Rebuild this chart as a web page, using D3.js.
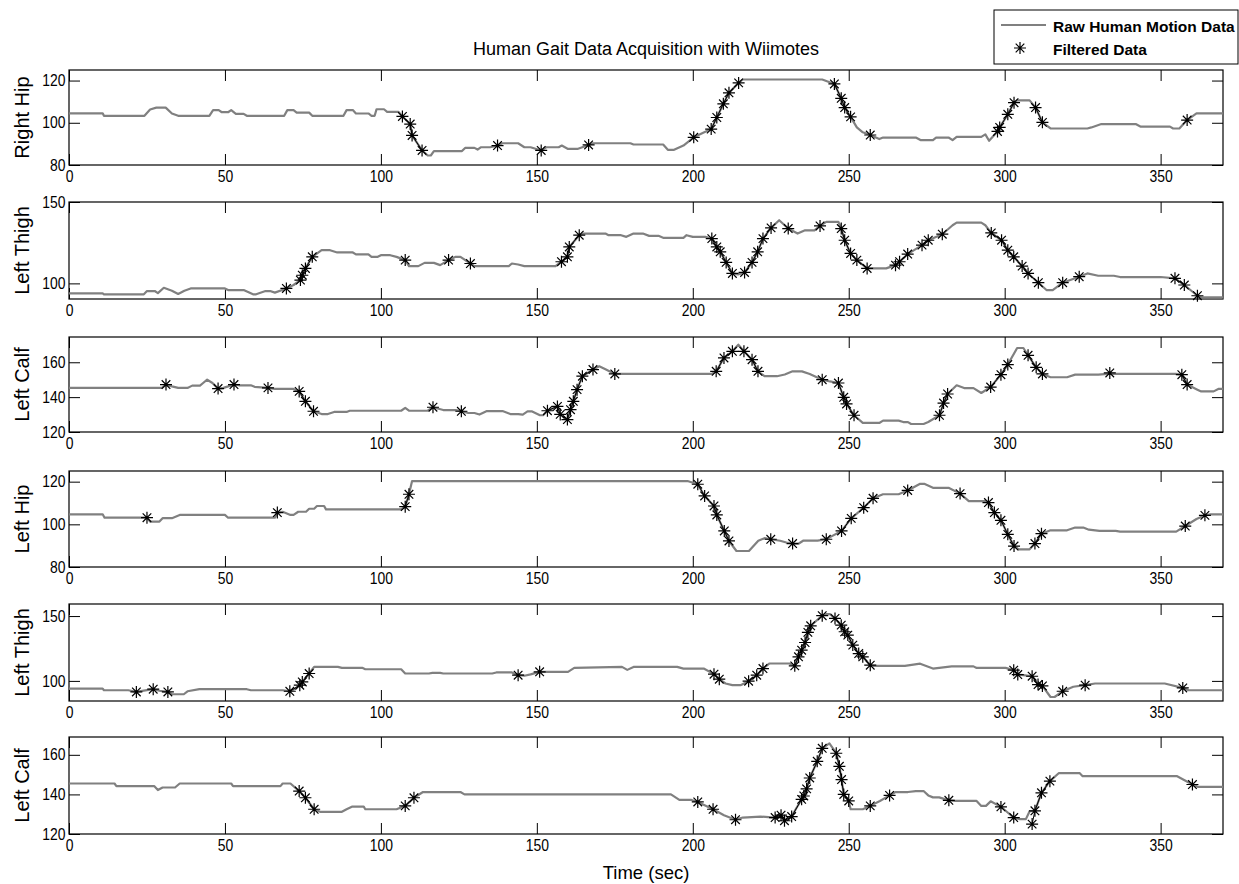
<!DOCTYPE html>
<html><head><meta charset="utf-8">
<script src="https://cdn.jsdelivr.net/npm/d3@7"></script>
<style>
body{margin:0;background:#fff}
text{font-family:"Liberation Sans",Arial,sans-serif;fill:#000}
</style>
</head><body>
<svg id="chart" width="1239" height="884"></svg>
<script>
// ---------------- DATA ----------------
const chartTitle = "Human Gait Data Acquisition with Wiimotes";
const xLabel = "Time (sec)";
const xTicks = [0, 50, 100, 150, 200, 250, 300, 350];
const panelLabels = ["Right Hip", "Left Thigh", "Left Calf", "Left Hip", "Left Thigh", "Left Calf"];
const yDomains = [[80,125],[90.4,150],[120,174.5],[80,125],[84.5,159.3],[120,169]];
const yTicks = [[80,100,120],[100,150],[120,140,160],[80,100,120],[100,150],[120,140,160]];
const legendLabels = ["Raw Human Motion Data", "Filtered Data"];

const rightHipRaw = [[0,104.5],[10.8,104.5],[11.2,103.3],[24.2,103.3],[26,106.3],[28,107.2],[31,107.2],[33,104.4],[35,103.3],[45,103.3],[46.2,106],[48,106],[49,105],[51,105],[52,106],[53.5,104.2],[56,104.2],[57,103.3],[69,103.3],[70,106],[72,106],[73,104.8],[77,104.8],[78,103.3],[88,103.3],[89,106],[91,106],[92,104.4],[96,104.4],[97,103.3],[98,103.3],[98.6,106.4],[101,106.4],[102,105.2],[105.6,105.2],[106.9,103],[109.4,99.4],[110,94],[113.2,86.9],[115,84.5],[116,84.5],[117,86.6],[126,86.6],[127,88.1],[130,88.1],[131,87.3],[132,88.4],[135,88.4],[137.4,89.2],[139,90.3],[144,90.3],[146,88.4],[148,88.4],[151.4,86.9],[153,88.4],[157,88.4],[158,89.2],[160,87.6],[163,87.6],[166.6,89.5],[168,90.3],[180,90.3],[181,89.7],[190.5,89.7],[192,87.2],[194,87.2],[197,89.2],[200.3,93.1],[203,95],[205.9,97],[207.7,102.5],[209.8,109],[211.6,114.2],[214.7,118.9],[216,120.5],[241.5,120.5],[245.4,118.4],[247.6,111.6],[248.7,107.2],[250.6,102.8],[252.6,97.8],[254.5,95.5],[256.9,94.2],[259.8,92.3],[261,93],[271.5,93],[273,91.8],[277,91.8],[278,93],[282,93],[283.3,91.8],[284.6,93.3],[292.5,93.3],[293.8,94.5],[295,91.5],[297.7,95.9],[298.4,97.8],[301,104],[303,109.5],[304,110.6],[308,110.6],[309.9,107.2],[312.1,100.2],[314.7,97.3],[326.5,97.3],[327.8,97.8],[331,99.4],[342,99.4],[343.5,98.2],[353,98.2],[354,97.3],[356,97.3],[358.5,101.3],[361.5,104.5],[370,104.5]];
const rightHipFiltered = [[106.9,103],[109.4,99.4],[110,94],[113.2,86.9],[137.4,89.2],[151.4,86.9],[166.6,89.5],[200.3,93.1],[205.9,97],[207.7,102.5],[209.8,109],[211.6,114.2],[214.7,118.9],[245.4,118.4],[247.6,111.6],[248.7,107.2],[250.6,102.8],[256.9,94.2],[297.7,95.9],[298.4,97.8],[301,104],[303,109.5],[309.9,107.2],[312.1,100.2],[358.5,101.3]];

const leftThighRaw = [[0,93.9],[10.8,93.9],[11.2,93.3],[24,93.3],[25,95.3],[27.5,95.3],[28.5,94],[30.4,97.3],[33,95.5],[35,93.5],[37,95.5],[39,96.9],[50,96.9],[51,95.9],[56,95.9],[59,93.3],[60,93.3],[63,95.3],[64.5,95.3],[66,94.3],[69.7,96.9],[72,99],[74.2,102],[74.8,105],[75.8,109.2],[78,116.3],[81,120.4],[83.7,120.4],[86,119],[91,119],[92,117.8],[96,117.8],[97,116.3],[99,116.3],[100,117.3],[103,117.3],[105,116.3],[107.8,114.3],[109,110.6],[112,110.6],[114,112.6],[117,112.6],[119,111.2],[121.7,114.3],[124,116.3],[125.5,116.3],[128.7,112.2],[130,110.6],[141,110.6],[142,112.2],[144,111.6],[146,110.6],[156,110.6],[157.9,113.3],[159.8,116.3],[160.4,122.4],[163.6,129.6],[165,130.6],[172,130.6],[173,129.6],[177,129.6],[178.7,128.6],[181,130.6],[184,130.6],[186,129.2],[189,129.2],[190.5,128],[197,128],[198,129.6],[200,128.6],[204,128.6],[206.1,127.5],[207.7,122.4],[208.8,119.4],[210.7,112.9],[212.7,106.1],[214.5,105.5],[216.6,106.7],[219,112.9],[220.8,119.4],[222.5,127.5],[225.1,134.1],[227.7,138.8],[230.6,133.7],[233.6,130.6],[236,132.6],[239,132.6],[240.8,135.3],[242.8,137.8],[246.7,137.8],[247.6,133.7],[248.7,126.5],[250.6,118.4],[252.6,114.3],[255.9,109.2],[262,109.2],[265,111.2],[266.3,113.3],[268.9,118],[273.5,123.5],[275.5,126.5],[280,130.2],[283.3,135.7],[284.6,137.3],[292.5,137.3],[293.8,135.7],[295.7,131],[299,126.5],[301,120.4],[302.9,116.3],[305.6,110.6],[307.5,106.1],[310.8,100.4],[313.4,95.9],[315.4,95.9],[318.6,100.4],[323.9,104.1],[326.5,106.1],[330,104.7],[335,104.7],[337,103.9],[350,103.9],[354.6,103.1],[357.6,99],[361.8,92.4],[363,91.4],[370,91.4]];
const leftThighFiltered = [[69.7,96.9],[74.2,102],[74.8,105],[75.8,109.2],[78,116.3],[107.8,114.3],[121.7,114.3],[128.7,112.2],[157.9,113.3],[159.8,116.3],[160.4,122.4],[163.6,129.6],[206.1,127.5],[207.7,122.4],[208.8,119.4],[210.7,112.9],[212.7,106.1],[216.6,106.7],[219,112.9],[220.8,119.4],[222.5,127.5],[225.1,134.1],[230.6,133.7],[240.8,135.3],[247.6,133.7],[248.7,126.5],[250.6,118.4],[252.6,114.3],[255.9,109.2],[265,111.2],[266.3,113.3],[268.9,118],[273.5,123.5],[275.5,126.5],[280,130.2],[295.7,131],[299,126.5],[301,120.4],[302.9,116.3],[305.6,110.6],[307.5,106.1],[310.8,100.4],[318.6,100.4],[323.9,104.1],[354.6,103.1],[357.6,99],[361.8,92.4]];

const leftCalfRaw = [[0,145.3],[29.8,145.3],[31.1,147.2],[33,146.2],[35,145.3],[38,145.3],[39.5,146.6],[42,146.6],[43,148.1],[44.3,150],[46,148.1],[47.8,144.9],[49.5,145.3],[52.9,147.2],[54.5,146.8],[58.3,146.8],[59.5,145.9],[63.8,145.3],[66,144.7],[72,144.7],[73.8,143.3],[75.8,137.6],[78.4,131.9],[81,130.3],[83,130.3],[85,131.5],[89,131.5],[90,132.2],[106.5,132.2],[107.8,133.8],[109,132.2],[115,132.2],[116.7,134.2],[120,132.6],[124,132.6],[125.8,131.9],[128,130.9],[130,130.9],[131.6,130],[134,132],[139,132],[141.5,130.3],[144,130.3],[145.5,130],[147,131.8],[148.5,131.8],[151,129.6],[152,129.6],[153.4,132.2],[156.6,134.7],[157.5,130.1],[159.8,127.1],[160.8,132.8],[161.7,137.6],[162.9,144.3],[164.6,152],[168,155.8],[170,157.7],[172,156],[175,153.3],[206,153.3],[207.5,154.8],[210,162.5],[212.7,166.3],[214.6,170.1],[216.4,166.3],[219,161.5],[220.9,154.8],[223,152],[227,152],[229.5,153],[232,154.8],[235,154.8],[237.5,153.3],[241.5,150],[244,149],[246.7,148.1],[248.4,139.9],[249.3,136.1],[251.7,129.6],[254.5,125.2],[259.8,125.2],[261,126.5],[266,126.5],[267.5,125.7],[269,125.7],[270,124.6],[274,124.6],[275.5,125.7],[279.1,129.6],[280.4,136.6],[281.7,141.8],[284.6,146.8],[287,145.2],[290,145.2],[292.5,142.4],[295.5,145.8],[298.8,152.9],[301,158.7],[304,168.2],[306,168.2],[307.5,164],[310.1,157.1],[312.1,153.3],[314.7,151.4],[320,151.4],[322.6,152.9],[330,152.9],[333,153.3],[355,153.3],[356.8,152.9],[358.5,147.2],[361.8,144.3],[363,143.3],[367,143.3],[368.5,144.7],[370,144.7]];
const leftCalfFiltered = [[31.1,147.2],[47.8,144.9],[52.9,147.2],[63.8,145.3],[73.8,143.3],[75.8,137.6],[78.4,131.9],[116.7,134.2],[125.8,131.9],[153.4,132.2],[156.6,134.7],[157.5,130.1],[159.8,127.1],[160.8,132.8],[161.7,137.6],[162.9,144.3],[164.6,152],[168,155.8],[175,153.3],[207.5,154.8],[210,162.5],[212.7,166.3],[216.4,166.3],[219,161.5],[220.9,154.8],[241.5,150],[246.7,148.1],[248.4,139.9],[249.3,136.1],[251.7,129.6],[279.1,129.6],[280.4,136.6],[281.7,141.8],[295.5,145.8],[298.8,152.9],[301,158.7],[307.5,164],[310.1,157.1],[312.1,153.3],[333.7,153.9],[356.8,152.9],[358.5,147.2]];

const leftHipRaw = [[0,104.7],[10.8,104.7],[11.4,103.1],[25,103.1],[26,101.3],[29,101.3],[30,102.9],[33,102.9],[35.5,104.4],[50,104.4],[51,103.1],[66,103.1],[66.8,105.5],[68.5,105.9],[71,104.4],[72,104.4],[73.5,105.9],[76,105.9],[77,107.3],[78.6,107.3],[79.5,108.6],[81.8,108.6],[82.4,107],[106.5,107],[107.8,108.3],[109,114.1],[110,120.3],[198.3,120.3],[201.6,118.8],[203.8,113.3],[206.8,108.6],[207.7,104.4],[210.1,96.9],[211.6,92.2],[214,87.5],[218,87.5],[221,92.3],[223,93.5],[225,93],[228,92.3],[230,91.5],[232,91],[234,91],[235.5,92.4],[240,92.4],[242.8,93],[244,94],[247.7,96.9],[250.8,102.8],[254.8,107.8],[257.8,112.2],[261,114.1],[266,114.1],[267.5,115],[268.9,115.9],[272.9,119],[274.2,119],[277,117.1],[282,117.1],[285.7,114.4],[288.5,110.9],[293.8,110.9],[294.8,110.2],[296.7,105.5],[298.8,101.9],[301,95.3],[303,89.8],[304.5,88.3],[308,88.3],[309.7,91],[311.8,95.6],[314.7,97.2],[320,97.2],[322.6,98.5],[325.2,98.5],[327,97.5],[330.4,96.9],[335.6,96.9],[337,96.6],[355,96.6],[357.9,99.2],[361.5,102.5],[364.2,104.2],[366,104.7],[370,104.7]];
const leftHipFiltered = [[25,103.1],[66.8,105.5],[107.8,108.3],[109,114.1],[201.6,118.8],[203.8,113.3],[206.8,108.6],[207.7,104.4],[210.1,96.9],[211.6,92.2],[225,93],[232,91],[242.8,93],[247.7,96.9],[250.8,102.8],[254.8,107.8],[257.8,112.2],[268.9,115.9],[285.7,114.4],[294.8,110.2],[296.7,105.5],[298.8,101.9],[301,95.3],[303,89.8],[309.7,91],[311.8,95.6],[357.9,99.2],[364.2,104.2]];

const leftThigh2Raw = [[0,94.1],[10.8,94.1],[11.2,92.8],[19,92.8],[21.6,91.5],[24,92.5],[27,93.6],[29,92.4],[31.7,91.5],[33,89.7],[36.8,89.7],[38,92],[41.8,93.6],[57,93.6],[58.3,92.8],[68.5,92.8],[70.8,92],[72.5,94],[74,96.7],[74.8,99.2],[77,105.7],[78.6,110.8],[86.2,110.8],[87.5,110.1],[94,110.1],[95,109],[106.5,109],[107.8,105.7],[115.4,105.7],[116.5,106.2],[119,106.2],[120,105.7],[135.7,105.7],[137,106.5],[142,106.5],[144,104.4],[146,104],[148,105],[150.9,107],[160,107],[162,110],[177.3,110.8],[179,108.5],[181,110.8],[195,110.8],[197,109.5],[203.5,109.5],[206.8,105.2],[208.5,101.3],[210.5,98],[212.7,96.7],[215.3,96.7],[217.9,99.8],[220.5,104.4],[222.5,109.5],[224.5,113.4],[231,113.4],[232.7,111.6],[233.9,118.6],[234.9,123.7],[236,129.6],[236.9,137.4],[237.8,142.5],[241.5,150.3],[242.8,151.5],[244,151.5],[245.6,148.2],[247.6,143],[248.7,137.9],[249.7,135.3],[251.3,127.6],[253.2,121.1],[254.5,118.6],[256.9,112.1],[258,111.6],[268,111.6],[272.9,113.3],[277,109.5],[283,111.2],[290,111.2],[291,110],[300.3,110],[302.9,108.3],[304.2,104.9],[306,104.5],[308.8,103.6],[310.7,97.2],[312.1,96.1],[314.7,87.6],[316,87.6],[318.6,92],[322,95.5],[325.8,96.7],[329,98],[351.3,98],[357.1,94.6],[359,92.8],[370,92.8]];
const leftThigh2Filtered = [[21.6,91.5],[27,93.6],[31.7,91.5],[70.8,92],[74,96.7],[74.8,99.2],[77,105.7],[144,104.4],[150.9,107],[206.8,105.2],[208.5,101.3],[217.9,99.8],[220.5,104.4],[222.5,109.5],[232.7,111.6],[233.9,118.6],[234.9,123.7],[236,129.6],[236.9,137.4],[237.8,142.5],[241.5,150.3],[245.6,148.2],[247.6,143],[248.7,137.9],[249.7,135.3],[251.3,127.6],[253.2,121.1],[254.5,118.6],[256.9,112.1],[302.9,108.3],[304.2,104.9],[308.8,103.6],[310.7,97.2],[312.1,96.1],[318.6,92],[325.8,96.7],[357.1,94.6]];

const leftCalf2Raw = [[0,145.5],[14.6,145.5],[15.2,144.2],[27.3,144.2],[28.5,142.2],[30,143.5],[34,143.5],[35.5,145.5],[52,145.5],[52.6,144.2],[67.8,144.2],[68.5,145.5],[71,145.5],[73.8,141.7],[75.8,138.3],[78.6,132.5],[80.5,131.2],[87.5,131.2],[89,132.5],[90.7,133.8],[94.5,133.8],[95,132.5],[105,132.5],[107.8,134.2],[110.6,138.3],[113.5,141.2],[125.5,141.2],[126.8,140],[193,140],[195.7,137.2],[199.6,137.2],[201.6,136.2],[206.5,132.5],[210,129.5],[213.7,127.2],[216,128.3],[221.7,128.8],[226.4,128.3],[228.3,129.5],[229.4,126.7],[231.7,128.8],[233,132.5],[234.9,137.5],[235.6,139.2],[236.5,142.8],[237.5,148.3],[239.9,156.7],[241.5,163.3],[243.8,165.8],[246,160.8],[247,154.2],[247.7,147.5],[248.4,140],[250,136.7],[250.6,132.5],[254.5,132.5],[256.9,134.2],[260,136.7],[263.1,139.5],[265,141.2],[269,141.2],[271.5,141.7],[274,141.7],[275.5,139.5],[277,138.5],[279,138.5],[282.1,137],[284,136.7],[291,136.7],[292.5,134.2],[294,134.2],[295.5,136.5],[298.8,133.7],[300.5,131.5],[302.9,128.3],[304.9,127.5],[306.8,127.5],[308,131.5],[309.7,131.7],[311.8,140.8],[314.5,146.7],[317.4,150.8],[324,150.8],[325,149.2],[355.3,149.2],[360.2,145],[362,143.8],[370,143.8]];
const leftCalf2Filtered = [[73.8,141.7],[75.8,138.3],[78.6,132.5],[107.8,134.2],[110.6,138.3],[201.6,136.2],[206.5,132.5],[213.7,127.2],[226.4,128.3],[228.3,129.5],[229.4,126.7],[231.7,128.8],[234.9,137.5],[235.6,139.2],[236.5,142.8],[237.5,148.3],[239.9,156.7],[241.5,163.3],[246,160.8],[247,154.2],[247.7,147.5],[248.4,140],[250,136.7],[256.9,134.2],[263.1,139.5],[282.1,137],[298.8,133.7],[302.9,128.3],[308.8,125],[309.7,131.7],[311.8,140.8],[314.5,146.7],[360.2,145]];

const rawSeries = [rightHipRaw, leftThighRaw, leftCalfRaw, leftHipRaw, leftThigh2Raw, leftCalf2Raw];
const filteredSeries = [rightHipFiltered, leftThighFiltered, leftCalfFiltered, leftHipFiltered, leftThigh2Filtered, leftCalf2Filtered];

// ---------------- LAYOUT ----------------
const left = 69, right = 1223;
const panelBox = [[70,165],[202,299],[337,432],[471,567],[604,701],[737,834]];
const tickLen = 11;
const rawColor = "#808080";
const svg = d3.select("#chart");
const x = d3.scaleLinear().domain([0, 370]).range([left, right]);

const starPath = "M-6,0H6M0,-6V6M-4.3,-4.3L4.3,4.3M-4.3,4.3L4.3,-4.3";

panelBox.forEach(([top, bottom], i) => {
  const y = d3.scaleLinear().domain(yDomains[i]).range([bottom, top]);
  const g = svg.append("g");
  const clipId = "clip" + i;
  svg.append("clipPath").attr("id", clipId).append("rect")
    .attr("x", left).attr("y", top).attr("width", right - left).attr("height", bottom - top);

  const ax = g.append("g").attr("transform", `translate(0,${bottom})`)
    .call(d3.axisBottom(x).tickValues(xTicks).tickSize(-tickLen).tickPadding(6).tickFormat(d3.format("d")));
  const axT = g.append("g").attr("transform", `translate(0,${top})`)
    .call(d3.axisTop(x).tickValues(xTicks).tickSize(-tickLen).tickFormat(""));
  const ay = g.append("g").attr("transform", `translate(${left},0)`)
    .call(d3.axisLeft(y).tickValues(yTicks[i]).tickSize(-tickLen).tickPadding(4).tickFormat(d3.format("d")));
  const ayR = g.append("g").attr("transform", `translate(${right},0)`)
    .call(d3.axisRight(y).tickValues(yTicks[i]).tickSize(-tickLen).tickFormat(""));
  [ax, axT, ay, ayR].forEach(a => {
    a.select(".domain").remove();
    a.selectAll("line").attr("stroke", "#000").attr("stroke-width", 1);
    a.selectAll("text").style("font-family", '"Liberation Sans",Arial,sans-serif').style("font-size", "16px")
      .attr("fill", "#000").attr("transform", "scale(0.87,1)");
  });

  g.append("rect").attr("x", left).attr("y", top).attr("width", right - left).attr("height", bottom - top)
    .attr("fill", "none").attr("stroke", "#000").attr("stroke-width", 1.2);

  g.append("text").attr("transform", `translate(29,${(top + bottom) / 2}) rotate(-90)`)
    .attr("text-anchor", "middle").style("font-size", "20px").text(panelLabels[i]);

  const plot = g.append("g").attr("clip-path", `url(#${clipId})`);
  const line = d3.line().x(d => x(d[0])).y(d => y(d[1]));
  plot.append("path").datum(rawSeries[i]).attr("d", line)
    .attr("fill", "none").attr("stroke", rawColor).attr("stroke-width", 2.2).attr("stroke-linejoin", "round");

  const f = filteredSeries[i];
  const segs = [];
  for (let k = 1; k < f.length; k++) if (f[k][0] - f[k - 1][0] < 3.6) segs.push([f[k - 1], f[k]]);
  plot.selectAll(".seg").data(segs).join("path").attr("d", line)
    .attr("fill", "none").attr("stroke", "#000").attr("stroke-width", 1);
  g.selectAll(".star").data(f).join("path")
    .attr("transform", d => `translate(${x(d[0])},${y(d[1])})`)
    .attr("d", starPath).attr("stroke", "#000").attr("stroke-width", 1.2).attr("fill", "none");
});

svg.append("text").attr("x", (left + right) / 2).attr("y", 55).attr("text-anchor", "middle")
  .style("font-size", "18px").text(chartTitle);
svg.append("text").attr("x", (left + right) / 2).attr("y", 879).attr("text-anchor", "middle")
  .style("font-size", "18.5px").text(xLabel);

const lg = svg.append("g");
lg.append("rect").attr("x", 994).attr("y", 10).attr("width", 244).attr("height", 54)
  .attr("fill", "#fff").attr("stroke", "#000").attr("stroke-width", 1);
lg.append("line").attr("x1", 1001).attr("x2", 1046).attr("y1", 25).attr("y2", 25)
  .attr("stroke", rawColor).attr("stroke-width", 2.2);
lg.append("path").attr("transform", "translate(1020,48)").attr("d", starPath)
  .attr("stroke", "#000").attr("stroke-width", 1.2).attr("fill", "none");
lg.selectAll(".lt").data(legendLabels).join("text")
  .attr("x", 1053).attr("y", (d, k) => 32 + k * 23)
  .style("font-size", "15.5px").style("font-weight", "bold").text(d => d);
</script>
</body></html>
